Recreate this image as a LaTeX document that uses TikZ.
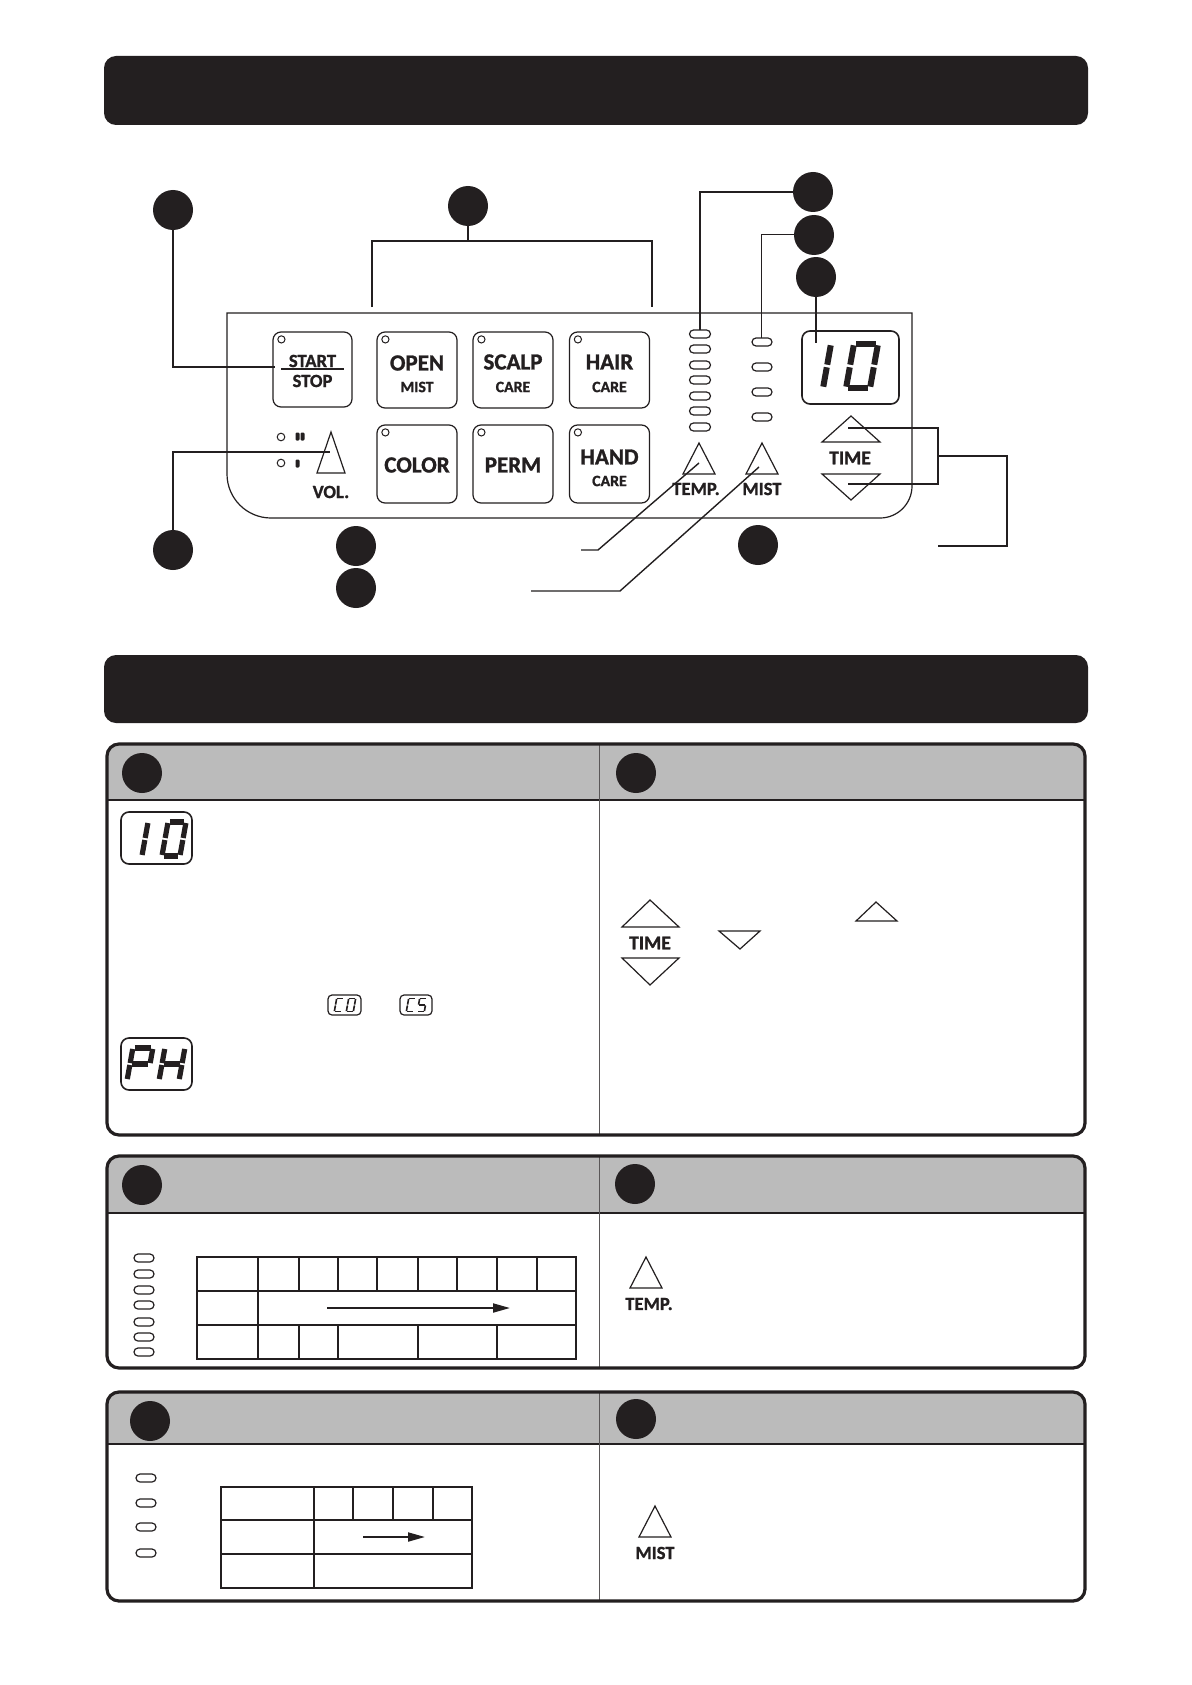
\documentclass[tikz,border=0pt]{standalone}
\usepackage{fontspec}
\setmainfont{Carlito}[BoldFeatures={FakeBold=1.2}]
\usetikzlibrary{arrows.meta}
\definecolor{ink}{HTML}{231F20}
\definecolor{hdr}{HTML}{BBBBBB}
\newcommand\sga{\draw (-0.4,-1) -- (0.4,-1);}
\newcommand\sgb{\draw (0.5,-0.94) -- (0.5,-0.06);}
\newcommand\sgc{\draw (0.5,0.06) -- (0.5,0.94);}
\newcommand\sgd{\draw (-0.4,1) -- (0.4,1);}
\newcommand\sge{\draw (-0.5,0.06) -- (-0.5,0.94);}
\newcommand\sgf{\draw (-0.5,-0.94) -- (-0.5,-0.06);}
\newcommand\sgg{\draw (-0.4,0) -- (0.4,0);}
\newcommand\segdig[6]{\begin{scope}[shift={(#1,#2)},xslant=0.18,xscale=#3,yscale=#4,line width=#5,line cap=butt,draw=ink]\foreach \s in {#6}{\csname sg\s\endcsname}\end{scope}}
\newcommand\infobox[3]{%
  \begin{scope}\clip[rounded corners=6pt] (107,#1) rectangle (1085,#3);
  \fill[hdr] (107,#1) rectangle (1085,#2);\end{scope}
  \draw[line width=0.6pt,ink] (107,#2) -- (1085,#2);
  \draw[line width=0.5pt,ink!75] (599,#1) -- (599,#3);
  \draw[line width=1.6pt,ink,rounded corners=6pt] (107,#1) rectangle (1085,#3);}
\begin{document}
\begin{tikzpicture}[x=0.5pt,y=-0.5pt,
  dot/.style={circle,fill=ink,inner sep=0pt,minimum size=20pt},
  btn/.style={draw=ink,line width=0.6pt,rounded corners=4pt,minimum width=40pt,inner sep=0pt},
  led/.style={draw=ink,line width=0.6pt,rounded corners=2pt,minimum width=10pt,minimum height=4pt,inner sep=0pt},
  tbig/.style={font=\fontsize{11.5}{13}\selectfont\bfseries,text=ink,inner sep=0pt},
  tmid/.style={font=\fontsize{9.3}{11}\selectfont\bfseries,text=ink,inner sep=0pt},
  ttime/.style={font=\fontsize{9.8}{11}\selectfont\bfseries,text=ink,inner sep=0pt},
  tsml/.style={font=\fontsize{7.9}{9}\selectfont\bfseries,text=ink,inner sep=0pt},
  tri/.style={draw=ink,line width=0.6pt},
  call/.style={draw=ink,line width=1pt},
  callt/.style={draw=ink,line width=0.5pt},
  tab/.style={draw=ink,line width=0.6pt},
  lcd/.style={draw=ink,line width=0.8pt,rounded corners=4pt}]
\useasboundingbox (0,0) rectangle (1192,1685);
\fill[white] (0,0) rectangle (1192,1685);

% header bars
\fill[ink,rounded corners=6pt] (104,56) rectangle (1088,125);
\fill[ink,rounded corners=6pt] (104,655) rectangle (1088,723);

% control panel outline
\draw[ink,line width=0.6pt] (227,313) -- (912,313) -- (912,486) arc(0:-90:16pt) -- (271,518) arc(270:180:22pt) -- cycle;

% buttons
\node[btn,minimum width=39.5pt,minimum height=37.5pt] (bStart) at (312.5,369.5) {};
\node[btn,minimum height=38pt] (bOpen) at (417,370) {};
\node[btn,minimum height=38pt] (bScalp) at (513,370) {};
\node[btn,minimum height=38pt] (bHair) at (609.5,370) {};
\node[btn,minimum height=39pt] (bColor) at (417,464) {};
\node[btn,minimum height=39pt] (bPerm) at (513,464) {};
\node[btn,minimum height=39pt] (bHand) at (609.5,464) {};
\foreach \b in {bStart,bOpen,bScalp,bHair,bColor,bPerm,bHand}
  \draw[ink,line width=0.5pt] (\b.north west) ++(9,8) circle (1.8pt);

\node[tmid] (tStart) at (312.5,361) {START};
\draw[ink,line width=0.6pt] (281,369) -- (344,369);
\node[tmid] (tStop) at (312.5,381) {STOP};
\node[tbig] (tOpen) at (417,363) {OPEN};
\node[tsml] (tOpenM) at (417,387) {MIST};
\node[tbig] (tScalp) at (513,362) {SCALP};
\node[tsml] (tScalpC) at (513,387) {CARE};
\node[tbig] (tHair) at (609.5,362) {HAIR};
\node[tsml] (tHairC) at (609.5,387) {CARE};
\node[tbig] (tColor) at (417,465) {COLOR};
\node[tbig] (tPerm) at (513,465) {PERM};
\node[tbig] (tHand) at (609.5,457) {HAND};
\node[tsml] (tHandC) at (609.5,481) {CARE};

% volume
\draw[ink,line width=0.5pt] (281,437) circle (1.9pt);
\draw[ink,line width=0.5pt] (281,463) circle (1.9pt);
\fill[ink,rounded corners=0.6pt] (295.5,432.5) rectangle (299.5,440.5);
\fill[ink,rounded corners=0.6pt] (300.5,432.5) rectangle (304.5,440.5);
\fill[ink,rounded corners=0.6pt] (295.5,459.5) rectangle (299.5,467.5);
\draw[tri] (331,432) -- (345,473) -- (317,473) -- cycle;
\node[tmid] (tVol) at (331,492) {VOL.};

% temp leds
\foreach \yy [count=\i] in {334,349,365,380,396,411,427}
  \node[led,minimum width=10.5pt] (tl\i) at (700,\yy) {};
\foreach \yy [count=\i] in {342,367,392,417}
  \node[led] (ml\i) at (762,\yy) {};

% display
\draw[lcd] (802,331) rectangle (899,404);
\segdig{815}{366}{24}{22}{3pt}{b,c}
\segdig{862}{366}{24}{22}{3pt}{a,b,c,d,e,f}

% temp / mist / time buttons
\draw[tri] (699,443) -- (715,474) -- (683,474) -- cycle;
\node[tmid] (tTemp) at (696,489) {TEMP.};
\draw[tri] (762,443) -- (778,474) -- (746,474) -- cycle;
\node[tmid] (tMist) at (762,489) {MIST};
\draw[tri] (851,416) -- (880,442) -- (822,442) -- cycle;
\node[ttime] (tTime) at (850,458) {TIME};
\draw[tri] (822,474) -- (880,474) -- (851,500) -- cycle;

% callout circles
\node[dot] (c1) at (173,210) {};
\node[dot] (c2) at (468,206) {};
\node[dot] (cA) at (813,192) {};
\node[dot] (cB) at (814,235) {};
\node[dot] (cC) at (816,277) {};
\node[dot] (cV) at (173,550) {};
\node[dot] (cM1) at (356,546) {};
\node[dot] (cM2) at (356,588) {};
\node[dot] (cT) at (758,545) {};

\coordinate (startIn) at (275,367);
\coordinate (volIn) at (330,452);
\coordinate (brL) at (372,241);
\coordinate (brR) at (652,241);
\coordinate (brLb) at (372,307);
\coordinate (brRb) at (652,307);
\coordinate (tempTop) at (700,330);
\coordinate (mistTop) at (761,338);
\coordinate (dispIn) at (816,343);
\coordinate (tempIn) at (699,463);
\coordinate (tempEnd) at (581,550);
\coordinate (tempK) at (598,550);
\coordinate (mistIn) at (759,467);
\coordinate (mistEnd) at (531,591);
\coordinate (mistK) at (620,591);
\coordinate (timeU) at (848,428);
\coordinate (timeD) at (848,484);
\coordinate (timeJU) at (938,428);
\coordinate (timeJD) at (938,484);
\coordinate (timeM) at (938,456);
\coordinate (timeR) at (1007,456);
\coordinate (timeRB) at (1007,546);
\coordinate (timeEnd) at (938,546);

\draw[call] (c1) |- (startIn);
\draw[call] (cV) |- (volIn);
\draw[call] (c2) -- (c2 |- brL);
\draw[call] (brLb) -- (brL) -- (brR) -- (brRb);
\draw[call] (cA) -| (tempTop);
\draw[callt] (cB) -| (mistTop);
\draw[call] (cC) -- (dispIn);
\draw[callt,line width=0.7pt] (tempEnd) -- (tempK) -- (tempIn);
\draw[callt,line width=0.7pt] (mistEnd) -- (mistK) -- (mistIn);
\draw[call] (timeU) -- (timeJU) -- (timeJD) -- (timeD);
\draw[call] (timeM) -- (timeR) -- (timeRB) -- (timeEnd);

% ---------- lower boxes ----------
\infobox{744}{800}{1135}
\infobox{1156}{1213}{1368}
\infobox{1392}{1444}{1601}
\node[dot] (n1) at (142,773) {};
\node[dot] (n2) at (636,773) {};
\node[dot] (n3) at (142,1185) {};
\node[dot] (n4) at (635,1184) {};
\node[dot] (n5) at (150,1421) {};
\node[dot] (n6) at (636,1419) {};

% box 1 left
\draw[lcd] (121,812) rectangle (192,864);
\segdig{136}{839}{18}{17}{2.6pt}{b,c}
\segdig{174}{839}{18}{17}{2.6pt}{a,b,c,d,e,f}
\draw[lcd,rounded corners=2pt,line width=0.6pt] (328,995) rectangle (361,1015);
\segdig{339}{1005}{7}{6.5}{0.8pt}{a,d,e,f}
\segdig{351}{1005}{7}{6.5}{0.8pt}{a,b,c,d,e,f}
\draw[lcd,rounded corners=2pt,line width=0.6pt] (400,995) rectangle (432,1015);
\segdig{411}{1005}{7}{6.5}{0.8pt}{a,d,e,f}
\segdig{422}{1005}{7}{6.5}{0.8pt}{a,c,d,f,g}
\draw[lcd] (121,1038) rectangle (192,1090);
\segdig{140}{1064}{20}{16}{2.6pt}{a,b,e,f,g}
\segdig{172}{1064}{20}{16}{2.6pt}{b,c,e,f,g}

% box 1 right
\draw[tri] (650,900) -- (679,927) -- (622,927) -- cycle;
\node[ttime] (bTime) at (650,943) {TIME};
\draw[tri] (622,958) -- (679,958) -- (650,985) -- cycle;
\draw[tri] (876,902) -- (897,921) -- (856,921) -- cycle;
\draw[tri] (719,931) -- (760,931) -- (740,949) -- cycle;

% box 2 left
\foreach \yy [count=\i] in {1258,1274,1290,1305,1322,1337,1352}
  \node[led] (bl\i) at (144,\yy) {};
\draw[tab] (197,1257) rectangle (576,1359);
\draw[tab] (197,1291) -- (576,1291) (197,1325) -- (576,1325);
\draw[tab] (258,1257) -- (258,1359);
\foreach \xx in {299,338,418,497} \draw[tab] (\xx,1257) -- (\xx,1291) (\xx,1325) -- (\xx,1359);
\foreach \xx in {377,457,537} \draw[tab] (\xx,1257) -- (\xx,1291);
\coordinate (a2s) at (327,1308);
\coordinate (a2e) at (510,1308);
\draw[ink,line width=1pt,-{Triangle[length=8.5pt,width=4.5pt]}] (a2s) -- (a2e);

% box 2 right
\draw[tri] (646,1257) -- (662,1288) -- (630,1288) -- cycle;
\node[tmid] (bTemp) at (649,1304) {TEMP.};

% box 3 left
\foreach \yy [count=\i] in {1478,1503,1527,1553}
  \node[led] (cl\i) at (146,\yy) {};
\draw[tab] (221,1487) rectangle (472,1588);
\draw[tab] (221,1520) -- (472,1520) (221,1554) -- (472,1554);
\draw[tab] (314,1487) -- (314,1588);
\foreach \xx in {353,393,433} \draw[tab] (\xx,1487) -- (\xx,1520);
\coordinate (a3s) at (363,1537);
\coordinate (a3e) at (425,1537);
\draw[ink,line width=1pt,-{Triangle[length=8.5pt,width=4.5pt]}] (a3s) -- (a3e);

% box 3 right
\draw[tri] (655,1506) -- (671,1537) -- (639,1537) -- cycle;
\node[tmid] (bMist) at (655,1553) {MIST};
\end{tikzpicture}
\end{document}
